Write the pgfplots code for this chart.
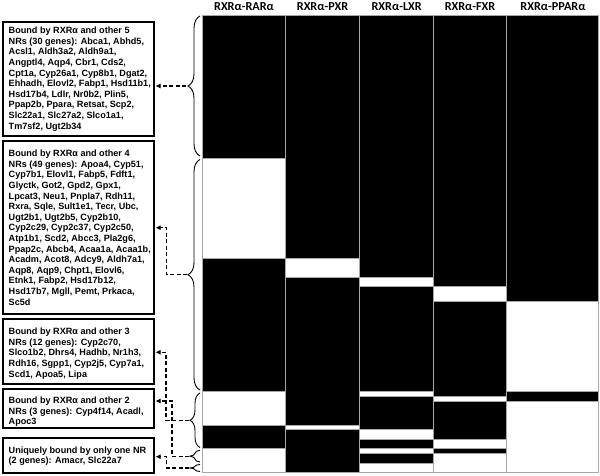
\documentclass[border=0pt]{standalone}
\usepackage{fontspec}
\setmainfont{Liberation Sans}
\newfontfamily\hdrfont{Carlito}
\usepackage{pgfplots}
\pgfplotsset{compat=1.18}
\usetikzlibrary{decorations.pathreplacing, arrows.meta}
\begin{document}
\begin{tikzpicture}
\useasboundingbox (0,0) rectangle (600pt,-476pt);
\begin{axis}[at={(202.3pt,-15pt)}, anchor=north west, scale only axis,
  width=396.4pt, height=457.7pt,
  xmin=202.3, xmax=598.7, ymin=0, ymax=96, y dir=reverse,
  xtick={285.7,359.3,433,506.3}, xticklabels={}, ytick=\empty,
  major tick length=0pt,
  xmajorgrids, major grid style={draw=gray!70, line width=0.8pt},
  axis line style={draw=gray!70, line width=0.8pt},
  clip=false, axis on top]
% black runs per column: 4 corners each (x in column bounds, y in gene rows)
\addplot[patch, patch type=rectangle, shader=faceted, faceted color=gray!70,
  line width=0.8pt, colormap={blk}{color=(black) color=(black)}] coordinates {
  % RXRa-RARa
  (202.3,0) (285.7,0) (285.7,30) (202.3,30)
  (202.3,51) (285.7,51) (285.7,79) (202.3,79)
  (202.3,86) (285.7,86) (285.7,91) (202.3,91)
  % RXRa-PXR
  (285.7,0) (359.3,0) (359.3,51) (285.7,51)
  (285.7,55) (359.3,55) (359.3,86) (285.7,86)
  (285.7,87) (359.3,87) (359.3,96) (285.7,96)
  % RXRa-LXR
  (359.3,0) (433,0) (433,55) (359.3,55)
  (359.3,57) (433,57) (433,79) (359.3,79)
  (359.3,80) (433,80) (433,87) (359.3,87)
  (359.3,89) (433,89) (433,91) (359.3,91)
  (359.3,92) (433,92) (433,94) (359.3,94)
  % RXRa-FXR
  (433,0) (506.3,0) (506.3,57) (433,57)
  (433,60) (506.3,60) (506.3,80) (433,80)
  (433,81) (506.3,81) (506.3,89) (433,89)
  (433,91) (506.3,91) (506.3,92) (433,92)
  % RXRa-PPARa
  (506.3,0) (598.7,0) (598.7,60) (506.3,60)
  (506.3,79) (598.7,79) (598.7,81) (506.3,81)
};
\begin{scope}[font=\hdrfont\bfseries\fontsize{12.2}{14}\selectfont]
\node at (axis cs:244,-1.7) {RXRα-RARα};
\node at (axis cs:322.5,-1.7) {RXRα-PXR};
\node at (axis cs:396.7,-1.7) {RXRα-LXR};
\node at (axis cs:470,-1.7) {RXRα-FXR};
\node at (axis cs:553,-1.7) {RXRα-PPARα};
\end{scope}
\end{axis}

\begin{scope}[x=1pt, y=-1pt]
% boxes
\begin{scope}[line width=1.8pt]
\draw (2.7,21.7) rectangle (154,136);
\draw (2.7,141) rectangle (154,314);
\draw (2.7,319.3) rectangle (154,384);
\draw (2.7,389.3) rectangle (154,428.3);
\draw (2.7,438.3) rectangle (154,473.3);
\end{scope}
\begin{scope}[every node/.style={anchor=north west, inner sep=0pt, align=left,
   font=\bfseries\fontsize{9.1}{10.6}\selectfont}]
\node at (8.5,27) {Bound by RXRα and other 5\\NRs (30 genes): Abca1, Abhd5,\\Acsl1, Aldh3a2, Aldh9a1,\\Angptl4, Aqp4, Cbr1, Cds2,\\Cpt1a, Cyp26a1, Cyp8b1, Dgat2,\\Ehhadh, Elovl2, Fabp1, Hsd11b1,\\Hsd17b4, Ldlr, Nr0b2, Plin5,\\Ppap2b, Ppara, Retsat, Scp2,\\Slc22a1, Slc27a2, Slco1a1,\\Tm7sf2, Ugt2b34};
\node at (8.5,150) {Bound by RXRα and other 4\\NRs (49 genes): Apoa4, Cyp51,\\Cyp7b1, Elovl1, Fabp5, Fdft1,\\Glyctk, Got2, Gpd2, Gpx1,\\Lpcat3, Neu1, Pnpla7, Rdh11,\\Rxra, Sqle, Sult1e1, Tecr, Ubc,\\Ugt2b1, Ugt2b5, Cyp2b10,\\Cyp2c29, Cyp2c37, Cyp2c50,\\Atp1b1, Scd2, Abcc3, Pla2g6,\\Ppap2c, Abcb4, Acaa1a, Acaa1b,\\Acadm, Acot8, Adcy9, Aldh7a1,\\Aqp8, Aqp9, Chpt1, Elovl6,\\Etnk1, Fabp2, Hsd17b12,\\Hsd17b7, Mgll, Pemt, Prkaca,\\Sc5d};
\node at (8.5,328) {Bound by RXRα and other 3\\NRs (12 genes): Cyp2c70,\\Slco1b2, Dhrs4, Hadhb, Nr1h3,\\Rdh16, Sgpp1, Cyp2j5, Cyp7a1,\\Scd1, Apoa5, Lipa};
\node at (8.5,397) {Bound by RXRα and other 2\\NRs (3 genes): Cyp4f14, Acadl,\\Apoc3};
\node at (8.5,446.5) {Uniquely bound by only one NR\\(2 genes): Amacr, Slc22a7};
\end{scope}
% braces
\begin{scope}[line width=0.9pt]
\draw[decorate, decoration={brace, amplitude=12pt}] (200,156) -- (200,16);
\draw[decorate, decoration={brace, amplitude=12pt}] (200,390) -- (200,159.5);
\draw[decorate, decoration={brace, amplitude=10pt}] (200,447.5) -- (200,393);
\draw[decorate, decoration={brace, amplitude=10pt}] (200,462) -- (200,450.3);
\draw[decorate, decoration={brace, amplitude=10pt}] (200,471.5) -- (200,464.5);
\end{scope}
% dashed arrows
\begin{scope}[line width=1.1pt, dash pattern=on 4pt off 2.5pt, -{Latex[length=5pt,width=5pt]}]
\draw (186,86) -- (155.5,86);
\draw (187,274.7) -- (166.7,274.7) -- (166.7,227.7) -- (155.5,227.7);
\draw (189,420.2) -- (166,420.2) -- (166,352.3) -- (155.5,352.3);
\draw (189,456.2) -- (172,456.2) -- (172,401) -- (155.5,401);
\draw (189,468) -- (166.7,468) -- (166.7,456.7) -- (155.5,456.7);
\end{scope}
\end{scope}
\end{tikzpicture}
\end{document}
